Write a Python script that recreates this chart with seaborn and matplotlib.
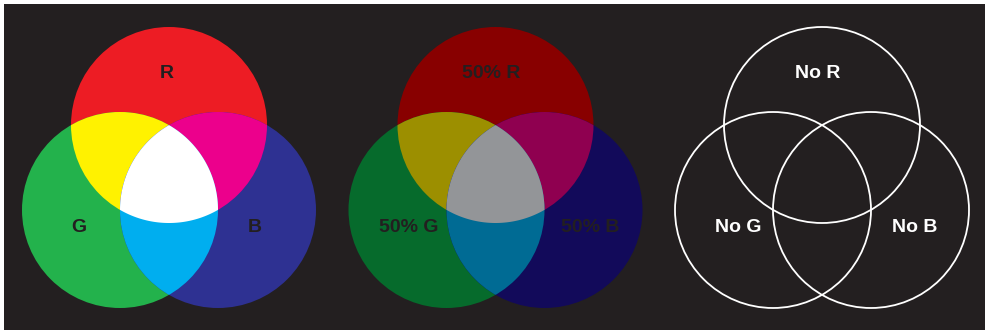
import numpy as np
import seaborn as sns
import matplotlib.pyplot as plt
from matplotlib.patches import Circle, Polygon, Rectangle

sns.set_style("white")
plt.rcParams['font.family'] = ['Liberation Sans', 'DejaVu Sans']

# Panel contents
channels = ['R', 'G', 'B']
full_labels = ['R', 'G', 'B']
half_labels = ['50% R', '50% G', '50% B']
no_labels = ['No R', 'No G', 'No B']

# colours: single channels, pair overlaps (RG, RB, GB), triple overlap
full_colors = ['#ed1c24', '#23b24c', '#2e3192']
full_pairs = ['#fff200', '#ec008c', '#00aeef']
full_center = '#ffffff'
half_colors = ['#880000', '#066b2c', '#120a5a']
half_pairs = ['#9c8f00', '#8f0050', '#006b94']
half_center = '#939598'

bg = '#231f20'
radius = 98
centers = {'R': (169, 125), 'G': (120, 210), 'B': (218, 210)}
panel_shift = [0, 326.5, 653]
# label x offsets from circle centre, per panel
label_dx = [[-2, -41, 37], [-4, -38, 46], [-4, -35, 44]]
label_dy = [-52, 17, 17]


def circle(ax, c, **kw):
    return Circle(c, radius, transform=ax.transData, **kw)


def triple_region(cs):
    pts = []
    t = np.linspace(0, 2 * np.pi, 2000)
    for i, c in enumerate(cs):
        xs = c[0] + radius * np.cos(t)
        ys = c[1] + radius * np.sin(t)
        ok = np.ones_like(t, dtype=bool)
        for j, o in enumerate(cs):
            if j != i:
                ok &= (xs - o[0]) ** 2 + (ys - o[1]) ** 2 <= radius ** 2 + 1e-6
        pts += list(zip(xs[ok], ys[ok]))
    pts = np.array(pts)
    m = pts.mean(axis=0)
    ang = np.arctan2(pts[:, 1] - m[1], pts[:, 0] - m[0])
    return pts[np.argsort(ang)]


def add_labels(ax, p, labels, col):
    dx = panel_shift[p]
    for i, (k, lab) in enumerate(zip(channels, labels)):
        x = centers[k][0] + dx + label_dx[p][i]
        y = centers[k][1] + label_dy[i]
        ax.text(x, y, lab, ha='center', va='center', fontsize=14,
                fontweight='bold', color=col)


def draw_filled(ax, p, singles, pairs, center_col, labels, text_col):
    dx = panel_shift[p]
    cs = [(centers[k][0] + dx, centers[k][1]) for k in channels]
    for c, col in zip(cs, singles):
        ax.add_patch(circle(ax, c, facecolor=col, edgecolor='none'))
    for (a, b), col in zip([(0, 1), (0, 2), (1, 2)], pairs):
        patch = circle(ax, cs[b], facecolor=col, edgecolor='none')
        ax.add_patch(patch)
        patch.set_clip_path(circle(ax, cs[a]))
    ax.add_patch(Polygon(triple_region(cs), closed=True,
                         facecolor=center_col, edgecolor='none'))
    add_labels(ax, p, labels, text_col)


fig = plt.figure(figsize=(9.9, 3.3), dpi=100)
fig.patch.set_facecolor('white')
ax = fig.add_axes([0, 0, 1, 1])
ax.set_xlim(0, 990)
ax.set_ylim(330, 0)
ax.axis('off')
ax.add_patch(Rectangle((4, 4), 981, 330, facecolor=bg, edgecolor='none'))

draw_filled(ax, 0, full_colors, full_pairs, full_center, full_labels, bg)
draw_filled(ax, 1, half_colors, half_pairs, half_center, half_labels, bg)

# outline panel
for k in channels:
    c = (centers[k][0] + panel_shift[2], centers[k][1])
    ax.add_patch(circle(ax, c, facecolor='none', edgecolor='white',
                        linewidth=1.3))
add_labels(ax, 2, no_labels, 'white')

fig.savefig('out.png', dpi=100, facecolor=fig.get_facecolor())
